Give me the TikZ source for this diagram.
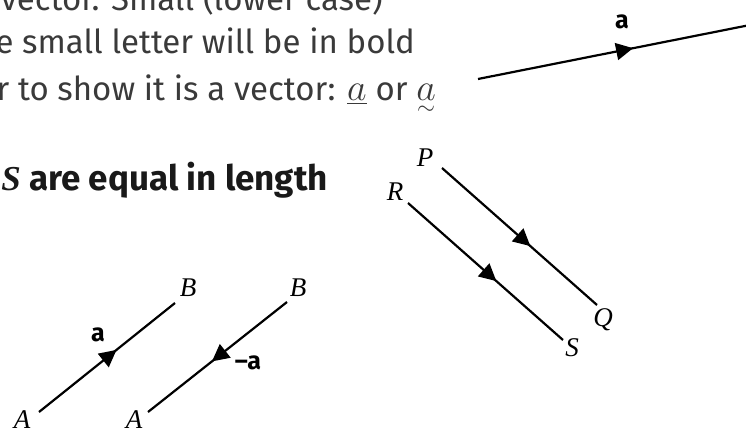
\RequirePackage{fix-cm}
\documentclass[tikz,border=0pt]{standalone}
\usepackage{amsmath}
\usepackage{fontspec}
\setmainfont{Fira Sans}
\newfontfamily\ptfont{Liberation Serif}
\usetikzlibrary{arrows.meta, decorations.markings}
\definecolor{bodygray}{HTML}{3A3A3A}
\newcommand{\handa}{\mbox{\fontsize{38}{38}\selectfont$a$}}
\tikzset{
  bodytext/.style={anchor=base east, inner sep=0pt, text=bodygray,
                   font=\fontsize{33}{40}\selectfont},
  headtext/.style={anchor=base east, inner sep=0pt, text=black!90,
                   font=\fontsize{35}{40}\selectfont\bfseries},
  ptlabel/.style={inner sep=0pt, font=\fontsize{27}{30}\selectfont\ptfont\itshape},
  veclabel/.style={inner sep=0pt, font=\fontsize{25}{30}\selectfont\bfseries},
  vecline/.style={line width=2.2pt, postaction={decorate},
                  decoration={markings, mark=at position #1 with
                  {\arrow{Triangle[length=17pt, width=17pt]}}}},
}

\begin{document}
\begin{tikzpicture}[x=1pt, y=-1pt]
    \useasboundingbox (0,0) rectangle (746,428);
    \clip (0,0) rectangle (746,428);

    % text block
    \node[bodytext] (line1) at (383,11) {vector. Small (lower case)};
    \node[bodytext] (line2) at (415,54) {e small letter will be in bold};
    \node[bodytext] (line3) at (436,100) {r to show it is a vector: $\underline{\handa}$ or $\underset{\sim}{\handa}$};
    \node[headtext] (head) at (328,190) {{\ptfont\itshape S} are equal in length};

    % vector a
    \coordinate (u0) at (478,79);
    \coordinate (u1) at (760,23);
    \draw[vecline=0.55] (u0) -- (u1);
    \node[veclabel] (ua) at (622,22) {a};

    % AB and -AB
    \coordinate (A1) at (39,412);
    \coordinate (B1) at (175,303);
    \coordinate (A2) at (148,412);
    \coordinate (B2) at (287,302);
    \draw[vecline=0.57] (A1) -- (B1);
    \draw[vecline=0.54] (B2) -- (A2);
    \node[ptlabel] (labA1) at (22,420) {A};
    \node[ptlabel] (labB1) at (188,288) {B};
    \node[ptlabel] (labA2) at (134,420) {A};
    \node[ptlabel] (labB2) at (298,288) {B};
    \node[veclabel] (pa) at (98,335) {a};
    \node[veclabel] (na) at (248,363) {--a};

    % PQ and RS
    \coordinate (P0) at (442,168);
    \coordinate (Q0) at (597,305);
    \coordinate (R0) at (408,203);
    \coordinate (S0) at (563,340);
    \draw[vecline=0.57] (P0) -- (Q0);
    \draw[vecline=0.57] (R0) -- (S0);
    \node[ptlabel] (labP) at (425,158) {P};
    \node[ptlabel] (labQ) at (603,320) {Q};
    \node[ptlabel] (labR) at (395,192) {R};
    \node[ptlabel] (labS) at (572,348) {S};
\end{tikzpicture}
\end{document}
